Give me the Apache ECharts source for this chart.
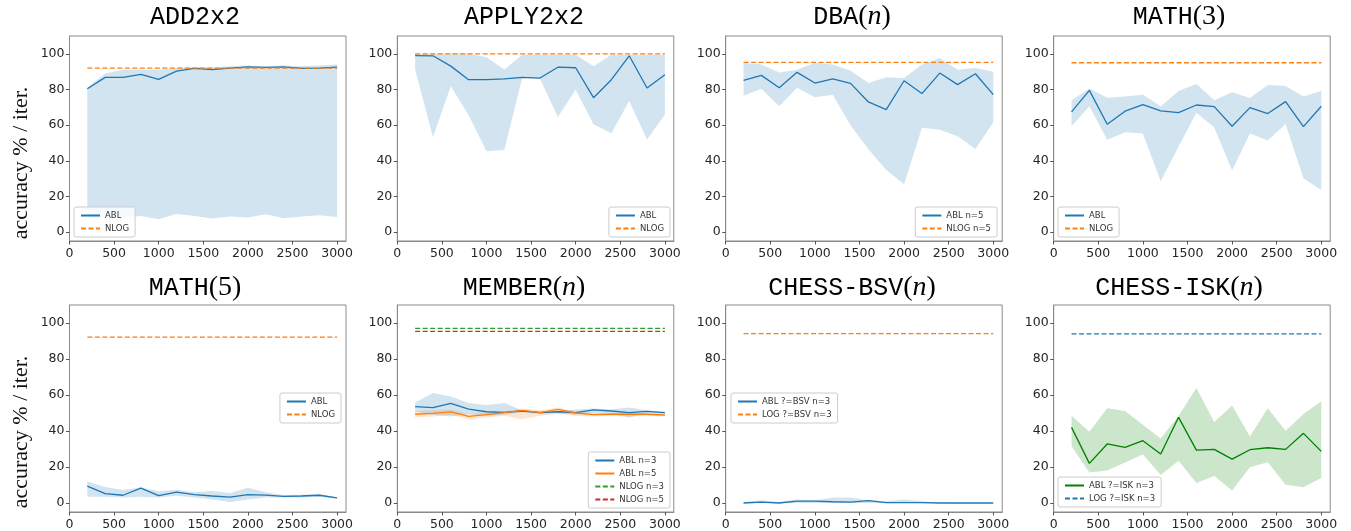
<!DOCTYPE html>
<html><head><meta charset="utf-8">
<script src="https://cdn.jsdelivr.net/npm/echarts@6/dist/echarts.min.js"></script>
<style>html,body{margin:0;padding:0;background:#fff}#c{width:1351px;height:531px}</style>
</head><body><div id="c"></div><script>
// ---- data ----
const xs = [200,400,600,800,1000,1200,1400,1600,1800,2000,2200,2400,2600,2800,3000];
const xTicks = [0,500,1000,1500,2000,2500,3000];
const yTicks = [0,20,40,60,80,100];
const yLabelText = 'accuracy % / iter.';

const add_abl = [80.4,86.8,86.8,88.5,85.7,90.3,91.8,91.1,92.0,92.7,92.4,92.7,91.8,92.0,92.5];
const add_hi  = [81,89,91,91,91,92,92.5,92.5,93,93.5,93,93.5,93,93.5,94];
const add_lo  = [8,7.8,8.5,9,7.2,10.2,9,7.6,8.7,8.2,10,7.8,8.7,9.5,8.4];
const add_nlog = 92;

const apply_abl = [99,98.9,93.1,85.5,85.5,86,86.8,86.4,92.5,92.2,75.4,85.5,98.9,80.8,88.3];
const apply_hi  = [100,100,100,100,98.1,91.2,99.5,99.5,99.5,99.5,93.1,99.5,99.5,99.5,99.5];
const apply_lo  = [91.2,53.4,81.8,65.5,45.4,46,86.5,86,64.6,79.9,60.5,55.5,73.6,52,65.9];
const apply_nlog = 100;

const dba_abl = [85.1,87.9,81,89.6,83.6,86,83.4,73,68.7,84.9,77.7,89.2,82.7,88.8,77.1];
const dba_hi  = [95,94,89.5,91.1,95,94,90.5,83.6,86.8,86.4,94,97.6,91,92,89.9];
const dba_lo  = [76.5,80.4,70.6,81,75.6,77.1,60,46.4,34.8,26.8,58.5,57.4,53.8,46.6,61.6];
const dba_nlog = 95.2;

const math3_abl = [67.4,79.5,60.5,67.8,71.5,68,67,71.3,70.4,59.4,69.8,66.5,73.2,59.2,70.6];
const math3_hi  = [73.9,80.6,75.4,76,77.1,70.6,79.1,83.1,73.9,78.4,75.2,82.5,81.9,76,79.1];
const math3_lo  = [59.4,70.6,51.8,56,55.3,28.5,48,67,58.7,34.5,55.3,51.4,60.7,30.2,23.6];
const math3_nlog = 95;

const math5_abl = [9.4,5.2,4.3,8.3,4.1,6.1,4.6,3.9,3.3,4.6,4.4,3.7,3.9,4.3,2.8];
const math5_hi  = [12,8.9,7.2,8.6,6.5,7.4,6,6.6,5.5,8.5,6,4.5,4.6,5,3];
const math5_lo  = [3.5,3.5,3,3.5,3,4,3,2,0.5,2,3,3,3,3.5,2.5];
const math5_nlog = 92.2;

const mem3_abl = [53.5,53,55.4,52.2,50.7,50.4,51.1,50.2,50.7,50.2,51.7,51.1,50.2,50.9,50.2];
const mem3_hi  = [55.9,61.1,59.1,55.6,54.4,55.6,51.5,51,51,52,52.5,52,53,51.5,50.5];
const mem3_lo  = [51,49,48,49.5,48.5,49,50.5,49.5,50,49,50,49.5,47.5,50,49.5];
const mem5_abl = [49.3,49.8,50.6,48.1,49.1,50.2,51.5,50.2,52,50,49.1,49.3,49.3,49.3,48.9];
const mem5_hi  = [51,51.5,52,49.5,50.5,51,52.5,51.5,53,51,50,50,50,50,49.5];
const mem5_lo  = [47.5,48,49,46.5,47.5,48.5,46.5,48.5,49.5,48.5,48,48.5,48,48.5,48];
const mem3_nlog = 97;
const mem5_nlog = 95.4;

const bsv_abl = [0,0.5,0,1,1,0.7,0.5,1.3,0.2,0.2,0.2,0,0,0,0];
const bsv_hi  = [0.5,1.5,0.5,2,1.5,3,3,1.5,1,2,1,0.3,0,0,0];
const bsv_lo  = [0,0,0,0,0,0,0,0,0,0,0,0,0,0,0];
const bsv_log = 94.1;

const isk_abl = [42,22,32.8,30.9,34.6,27.2,47.6,29.4,29.8,24.4,29.6,30.7,29.8,38.7,28.7];
const isk_hi  = [48.5,39.6,52.6,51.1,43.5,35.9,48.5,63.9,45,54.1,37,52.6,40.2,49.4,56.5];
const isk_lo  = [31.5,17,18.1,22.5,27,15.6,23.5,11.1,15,7,19.8,22.6,10.2,8.7,13.9];
const isk_log = 94;

// ---- styling / layout ----
const BLUE = '#1f77b4', ORANGE = '#ff7f0e', GREEN = '#2ca02c', RED = '#d62728', DKGREEN = '#008000';
const BLUEF = 'rgba(31,119,180,0.2)', ORANGEF = 'rgba(255,127,14,0.2)', GREENF = 'rgba(0,128,0,0.2)';
const COLS = [69.5, 397.3, 725.7, 1053.7];
const ROWS = [{top:36, h:205, ty:17}, {top:305, h:207, ty:288}];
const PW = 276.5;
const TITLE_X = [195, 524, 852, 1179];

const panels = [
  {title:'{m|ADD2x2}', r:0, c:0,
   lines:[{name:'ABL', y:add_abl, color:BLUE, band:[add_lo, add_hi], fill:BLUEF},
          {name:'NLOG', v:add_nlog, color:ORANGE}],
   legend:{left:74, top:207}},
  {title:'{m|APPLY2x2}', r:0, c:1,
   lines:[{name:'ABL', y:apply_abl, color:BLUE, band:[apply_lo, apply_hi], fill:BLUEF},
          {name:'NLOG', v:apply_nlog, color:ORANGE}],
   legend:{right:1351-670, top:207}},
  {title:'{m|DBA}{s|(}{i|n}{s|)}', r:0, c:2,
   lines:[{name:'ABL n=5', y:dba_abl, color:BLUE, band:[dba_lo, dba_hi], fill:BLUEF},
          {name:'NLOG n=5', v:dba_nlog, color:ORANGE}],
   legend:{right:1351-997, top:207}},
  {title:'{m|MATH}{s|(3)}', r:0, c:3,
   lines:[{name:'ABL', y:math3_abl, color:BLUE, band:[math3_lo, math3_hi], fill:BLUEF},
          {name:'NLOG', v:math3_nlog, color:ORANGE}],
   legend:{left:1058, top:207}},
  {title:'{m|MATH}{s|(5)}', r:1, c:0,
   lines:[{name:'ABL', y:math5_abl, color:BLUE, band:[math5_lo, math5_hi], fill:BLUEF},
          {name:'NLOG', v:math5_nlog, color:ORANGE}],
   legend:{right:1351-341, top:393}},
  {title:'{m|MEMBER}{s|(}{i|n}{s|)}', r:1, c:1,
   lines:[{name:'ABL n=3', y:mem3_abl, color:BLUE, band:[mem3_lo, mem3_hi], fill:BLUEF},
          {name:'ABL n=5', y:mem5_abl, color:ORANGE, band:[mem5_lo, mem5_hi], fill:ORANGEF},
          {name:'NLOG n=3', v:mem3_nlog, color:GREEN},
          {name:'NLOG n=5', v:mem5_nlog, color:RED}],
   legend:{right:1351-670, top:452}},
  {title:'{m|CHESS-BSV}{s|(}{i|n}{s|)}', r:1, c:2,
   lines:[{name:'ABL ?=BSV n=3', y:bsv_abl, color:BLUE, band:[bsv_lo, bsv_hi], fill:BLUEF},
          {name:'LOG ?=BSV n=3', v:bsv_log, color:ORANGE}],
   legend:{left:731, top:393}},
  {title:'{m|CHESS-ISK}{s|(}{i|n}{s|)}', r:1, c:3,
   lines:[{name:'ABL ?=ISK n=3', y:isk_abl, color:DKGREEN, band:[isk_lo, isk_hi], fill:GREENF},
          {name:'LOG ?=ISK n=3', v:isk_log, color:BLUE}],
   legend:{left:1058, top:477}}
];

const grid = [], xAxis = [], yAxis = [], series = [], legend = [], graphic = [];
const tickColor = '#555', frameColor = '#8a8a8a', labelColor = '#262626';
const richTitle = {
  m:{fontFamily:'Liberation Mono', fontSize:25, color:'#1a1a1a'},
  s:{fontFamily:'Liberation Serif', fontSize:28, color:'#1a1a1a'},
  i:{fontFamily:'Liberation Serif', fontStyle:'italic', fontSize:28, color:'#1a1a1a'}
};
const fmt = v => String(v);

panels.forEach((p, i) => {
  const row = ROWS[p.r];
  grid.push({left:COLS[p.c], top:row.top, width:PW, height:row.h, show:true,
             borderColor:frameColor, borderWidth:1, backgroundColor:'transparent', containLabel:false});
  xAxis.push({type:'value', gridIndex:i, min:0, max:3100,
    axisLine:{show:true, onZero:false, lineStyle:{color:frameColor}},
    axisTick:{show:true, length:3.5, customValues:xTicks, lineStyle:{color:tickColor}},
    axisLabel:{show:true, customValues:xTicks, formatter:fmt, margin:6, fontFamily:'DejaVu Sans', fontSize:12.5, color:labelColor},
    splitLine:{show:false}});
  yAxis.push({type:'value', gridIndex:i, min:-5, max:110,
    axisLine:{show:true, onZero:false, lineStyle:{color:frameColor}},
    axisTick:{show:true, length:3.5, customValues:yTicks, lineStyle:{color:tickColor}},
    axisLabel:{show:true, customValues:yTicks, formatter:fmt, margin:5, fontFamily:'DejaVu Sans', fontSize:12.5, color:labelColor},
    splitLine:{show:false}});
  // bands first (polygons placed through the axis scales)
  p.lines.forEach((l, k) => {
    if (!l.band) return;
    const lo = l.band[0], hi = l.band[1];
    series.push({type:'custom', name:'_band' + i + '_' + k, xAxisIndex:i, yAxisIndex:i, silent:true, z:1,
      data: xs.map((x, j) => [x, lo[j], hi[j]]),
      encode:{x:0, y:[1,2]},
      renderItem: (params, api) => {
        if (params.dataIndex !== 0) return null;
        const top = [], bot = [];
        for (let j = 0; j < xs.length; j++) {
          top.push(api.coord([xs[j], hi[j]]));
          bot.push(api.coord([xs[j], lo[j]]));
        }
        return {type:'polygon', shape:{points: top.concat(bot.reverse())},
                style:{fill:l.fill, stroke:null}};
      }});
  });
  const names = [];
  p.lines.forEach((l) => {
    const dashed = l.v !== undefined;
    const uid = l.name + '#' + i;   // unique per panel; suffix hidden in legend
    names.push(uid);
    series.push({type:'line', name:uid, xAxisIndex:i, yAxisIndex:i, symbol:'none', z:3,
      color:l.color, itemStyle:{opacity:0},
      lineStyle:{color:l.color, width:1.3, type: dashed ? [5, 2.5] : 'solid'},
      data: dashed ? xs.map(x => [x, l.v]) : xs.map((x, j) => [x, l.y[j]])});
  });
  const lg = {orient:'vertical', data:names, top:p.legend.top,
    formatter: n => n.split('#')[0],
    itemWidth:19, itemHeight:8, itemGap:4, padding:[4,6,4,6],
    itemStyle:{opacity:0},
    borderColor:'#cccccc', borderWidth:1, borderRadius:2, backgroundColor:'rgba(255,255,255,0.8)',
    textStyle:{fontFamily:'DejaVu Sans', fontSize:8.5, color:'#333'}, selectedMode:false};
  if (p.legend.left !== undefined) lg.left = p.legend.left; else lg.right = p.legend.right;
  legend.push(lg);
  graphic.push({type:'text', x:TITLE_X[p.c], y:row.ty, silent:true,
    style:{text:p.title, rich:richTitle, align:'center', verticalAlign:'middle'}});
});

[163, 432].forEach(cy => {
  graphic.push({type:'text', x:21, y:cy, rotation:Math.PI/2, silent:true,
    style:{text:yLabelText, x:0, y:0, align:'center', verticalAlign:'middle',
           font:'22px "Liberation Serif"', fill:'#111'}});
});

const chart = echarts.init(document.getElementById('c'), null, {renderer:'canvas'});
chart.setOption({animation:false, backgroundColor:'#fff', grid, xAxis, yAxis, series, legend, graphic});
</script></body></html>
